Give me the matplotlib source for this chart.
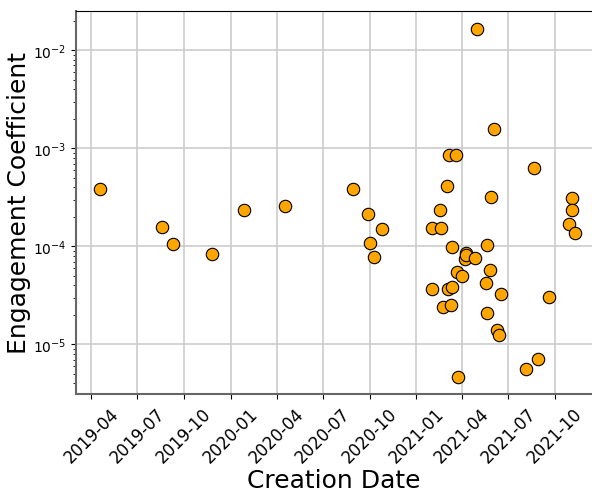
import pandas as pd
import matplotlib
matplotlib.use("Agg")
import matplotlib.pyplot as plt
import matplotlib.dates as mdates

# creation date of each item and its engagement coefficient
dates = ["2019-04-18", "2019-08-18", "2019-09-10", "2019-11-26", "2020-01-27",
         "2020-04-16", "2021-04-30", "2021-06-02", "2021-03-06", "2021-03-19",
         "2021-08-21", "2020-08-28", "2021-03-03", "2021-05-27", "2020-09-28",
         "2021-02-17", "2020-10-25", "2021-02-01", "2021-02-19", "2021-11-03",
         "2021-11-03", "2021-10-28", "2021-11-10", "2020-10-01", "2020-10-10",
         "2021-03-13", "2021-05-20", "2021-04-09", "2021-04-06", "2021-04-08",
         "2021-04-27", "2021-03-21", "2021-03-31", "2021-05-25", "2021-05-19",
         "2021-06-17", "2021-02-01", "2021-03-04", "2021-03-12", "2021-02-22",
         "2021-03-10", "2021-05-20", "2021-06-09", "2021-06-13", "2021-03-23",
         "2021-09-20", "2021-08-05", "2021-08-29"]
coeffs = [3.82e-4, 1.56e-4, 1.07e-4, 8.4e-5, 2.33e-4,
          2.58e-4, 1.65e-2, 1.56e-3, 8.57e-4, 8.5e-4,
          6.35e-4, 3.85e-4, 4.09e-4, 3.19e-4, 2.14e-4,
          2.33e-4, 1.52e-4, 1.53e-4, 1.53e-4, 3.12e-4,
          2.35e-4, 1.69e-4, 1.37e-4, 1.08e-4, 7.73e-5,
          9.93e-5, 1.04e-4, 8.55e-5, 7.5e-5, 8.1e-5,
          7.7e-5, 5.43e-5, 4.95e-5, 5.78e-5, 4.24e-5,
          3.27e-5, 3.64e-5, 3.67e-5, 3.85e-5, 2.41e-5,
          2.54e-5, 2.07e-5, 1.41e-5, 1.25e-5, 4.68e-6,
          3.05e-5, 5.65e-6, 7.1e-6]

x = pd.to_datetime(dates)

fig = plt.figure(figsize=(5.92, 4.89), dpi=100)
ax = fig.add_axes([76 / 592, 94 / 489, 1 - 76 / 592, 383 / 489])

ax.scatter(x, coeffs, s=80, color="orange", edgecolor="black", linewidth=0.8, zorder=3)
ax.set_yscale("log")
ax.set_xlim(pd.Timestamp("2019-03-02"), pd.Timestamp("2021-12-13"))
ax.set_ylim(10 ** -5.505, 10 ** -1.6)

ax.xaxis.set_major_locator(mdates.MonthLocator(bymonth=[1, 4, 7, 10]))
ax.xaxis.set_major_formatter(mdates.DateFormatter("%Y-%m"))
plt.setp(ax.get_xticklabels(), rotation=45, fontsize=12)
ax.tick_params(axis="y", labelsize=10)

ax.grid(True, color="#cccccc", linewidth=1.2)
ax.set_axisbelow(True)
ax.spines["right"].set_visible(False)
for side in ["left", "bottom"]:
    ax.spines[side].set_color("#666666")
    ax.spines[side].set_linewidth(1.5)

ax.set_xlabel("Creation Date", fontsize=18, labelpad=2)
ax.set_ylabel("Engagement Coefficient", fontsize=18, labelpad=1)

fig.savefig("out.png", dpi=100)
